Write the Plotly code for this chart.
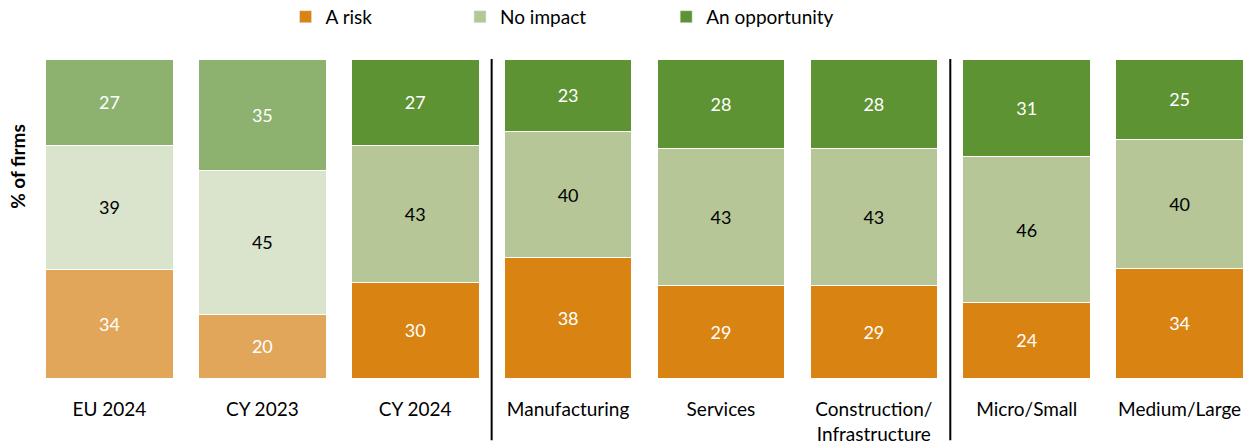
import plotly.graph_objects as go

categories = ["EU 2024", "CY 2023", "CY 2024", "Manufacturing", "Services",
              "Construction/<br>Infrastructure", "Micro/Small", "Medium/Large"]
risk = [34, 20, 30, 38, 29, 29, 24, 34]
no_impact = [39, 45, 43, 40, 43, 43, 46, 40]
opportunity = [27, 35, 27, 23, 28, 28, 31, 25]

# comparison bars (EU 2024, CY 2023) use lighter tints
risk_colors = ["#E2A65A", "#E2A65A"] + ["#D98313"] * 6
no_impact_colors = ["#DAE3CB", "#DAE3CB"] + ["#B6C697"] * 6
opp_colors = ["#8DB270", "#8DB270"] + ["#5E9334"] * 6

FONT = "Lato"

series = [
    ("A risk", risk, risk_colors, "#D98313", "white", "legend", 0.207),
    ("No impact", no_impact, no_impact_colors, "#B6C697", "black", "legend2", 0.350),
    ("An opportunity", opportunity, opp_colors, "#5E9334", "white", "legend3", 0.519),
]

fig = go.Figure()
for name, vals, cols, legcol, tcol, leg, _ in series:
    fig.add_trace(go.Bar(
        name=name, x=list(range(len(categories))), y=vals, text=vals,
        texttemplate="%{text}", textposition="inside", insidetextanchor="middle",
        textfont=dict(color=tcol, size=18, family=FONT),
        marker=dict(color=cols, line=dict(color="white", width=1)),
        width=0.835, legend=leg, showlegend=False, hoverinfo="skip",
    ))
    # legend swatch in the solid colour
    fig.add_trace(go.Bar(
        name=name, x=[None], y=[None], marker=dict(color=legcol),
        legend=leg, showlegend=True,
    ))

legend_layout = {}
for name, vals, cols, legcol, tcol, leg, xpos in series:
    legend_layout[leg] = dict(
        x=xpos, y=0.962, xanchor="left", yanchor="middle",
        xref="paper", yref="container",
        orientation="h", bgcolor="rgba(0,0,0,0)",
        font=dict(family=FONT, size=19, color="black"),
        itemwidth=30, tracegroupgap=0,
    )

fig.update_layout(
    width=1253, height=443,
    margin=dict(l=33, r=0, t=59, b=65, autoexpand=False),
    barmode="stack", barnorm="percent",
    plot_bgcolor="white", paper_bgcolor="white",
    xaxis=dict(tickmode="array", tickvals=list(range(len(categories))),
               ticktext=categories, range=[-0.5, 7.48], showgrid=False,
               showline=False, zeroline=False, ticks="outside",
               ticklen=14, tickcolor="white",
               tickfont=dict(family=FONT, size=19, color="black")),
    yaxis=dict(range=[0, 100], visible=False),
    font=dict(family=FONT),
    **legend_layout,
)

# group separators
for xs in (2.5, 5.5):
    fig.add_shape(type="line", xref="x", yref="paper", x0=xs, x1=xs,
                  y0=-0.195, y1=1.0, line=dict(color="black", width=2))

fig.add_annotation(text="<b>% of firms</b>", xref="paper", yref="paper",
                   x=-0.0123, y=0.665, xanchor="center", yanchor="middle",
                   textangle=-90, showarrow=False,
                   font=dict(family=FONT, size=19, color="black"))

fig.write_html("out.html")
